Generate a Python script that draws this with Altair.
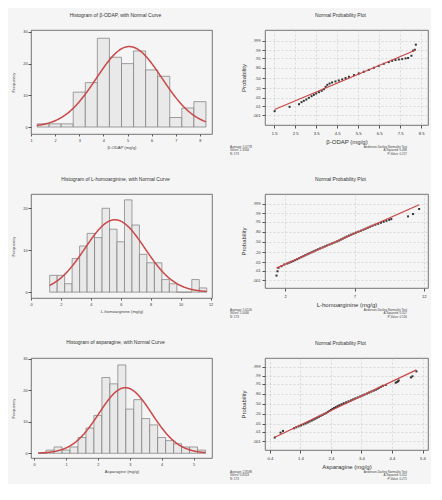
import altair as alt
import pandas as pd
from statistics import NormalDist

FONT = "Liberation Sans"
RED = "#c94848"

# ---------------- histogram data ----------------
odap_bin_start = [1.25, 1.75, 2.25, 2.75, 3.25, 3.75, 4.25, 4.75, 5.25, 5.75, 6.25, 6.75, 7.25, 7.75]
odap_counts = [1, 1, 1, 11, 14, 28, 22, 20, 24, 18, 16, 3, 6, 8]
odap_bin_width = 0.5
odap_mean, odap_sd = 5.07, 1.36

hom_bin_start = [1.25, 1.75, 2.25, 2.75, 3.25, 3.75, 4.25, 4.75, 5.25, 5.75, 6.25, 6.75,
                 7.25, 7.75, 8.25, 8.75, 9.25, 9.75, 10.25, 10.75, 11.25]
hom_counts = [4, 4, 2, 8, 11, 14, 13, 20, 15, 12, 22, 16, 9, 7, 7, 3, 2, 0, 0, 3, 1]
hom_bin_width = 0.5
hom_mean, hom_sd = 5.61, 2.0

asp_bin_start = [0.125, 0.375, 0.625, 0.875, 1.125, 1.375, 1.625, 1.875, 2.125, 2.375, 2.625,
                 2.875, 3.125, 3.375, 3.625, 3.875, 4.125, 4.375, 4.625, 4.875, 5.125]
asp_counts = [0, 1, 2, 1, 2, 5, 8, 12, 24, 22, 28, 14, 17, 11, 9, 5, 4, 3, 2, 2, 1]
asp_bin_width = 0.25
asp_mean, asp_sd = 2.86, 0.83

# ---------------- probability plot data (value, normal score) ----------------
odap_pp_x = [1.52, 2.23, 2.68, 2.80, 2.91, 3.03, 3.15, 3.28, 3.39, 3.50, 3.63, 3.76, 3.87,
             3.95, 4.03, 4.14, 4.26, 4.42, 4.58, 4.74, 4.90, 5.06, 5.30, 5.53, 5.77, 6.01,
             6.25, 6.48, 6.72, 6.96, 7.12, 7.28, 7.44, 7.60, 7.76, 7.88, 8.04, 8.12, 8.20, 8.25]
odap_pp_score = [-2.75, -2.39, -2.17, -2.00, -1.89, -1.78, -1.64, -1.50, -1.39, -1.28, -1.17,
                 -1.06, -0.92, -0.73, -0.56, -0.45, -0.36, -0.28, -0.20, -0.11, 0.00, 0.11,
                 0.25, 0.39, 0.53, 0.69, 0.86, 1.02, 1.19, 1.33, 1.44, 1.50, 1.55, 1.58, 1.64,
                 1.67, 1.86, 2.28, 2.36, 2.78]

hom_pp_x = [1.37, 1.44, 1.51, 1.73, 1.93, 2.15, 2.3, 2.45, 2.58, 2.72, 2.86, 3.0, 3.15, 3.3,
            3.44, 3.6, 3.74, 3.9, 4.05, 4.2, 4.36, 4.52, 4.7, 4.86, 5.02, 5.2, 5.38, 5.55, 5.72,
            5.88, 6.02, 6.16, 6.3, 6.44, 6.6, 6.76, 6.92, 7.1, 7.28, 7.46, 7.64, 7.8, 7.96, 8.12,
            8.3, 8.5, 8.7, 8.9, 9.1, 9.3, 9.5, 9.65, 10.86, 11.22, 11.66]
hom_pp_score = [-2.73, -2.38, -2.10, -1.97, -1.83, -1.75, -1.68, -1.61, -1.54, -1.47, -1.40,
                -1.32, -1.24, -1.16, -1.08, -1.00, -0.92, -0.84, -0.76, -0.68, -0.60, -0.52,
                -0.44, -0.36, -0.28, -0.20, -0.12, -0.04, 0.04, 0.12, 0.20, 0.28, 0.36, 0.44,
                0.52, 0.60, 0.68, 0.76, 0.84, 0.92, 1.00, 1.08, 1.16, 1.24, 1.32, 1.40, 1.48,
                1.56, 1.64, 1.72, 1.80, 1.86, 2.08, 2.27, 2.68]

asp_pp_x = [0.56, 0.75, 0.83, 1.19, 1.26, 1.34, 1.42, 1.5, 1.57, 1.64, 1.7, 1.77, 1.83, 1.89,
            1.95, 2.01, 2.07, 2.13, 2.19, 2.25, 2.3, 2.35, 2.4, 2.45, 2.5, 2.56, 2.62, 2.68,
            2.75, 2.82, 2.9, 2.98, 3.06, 3.13, 3.2, 3.28, 3.36, 3.43, 3.5, 3.58, 3.65, 3.72,
            3.8, 3.87, 3.93, 3.98, 4.04, 4.1, 4.2, 4.52, 4.56, 4.6, 4.62, 5.02, 5.07, 5.2]
asp_pp_score = [-2.80, -2.39, -2.25, -2.03, -1.95, -1.87, -1.79, -1.71, -1.63, -1.55, -1.47,
                -1.39, -1.31, -1.23, -1.15, -1.07, -0.99, -0.91, -0.83, -0.75, -0.67, -0.59,
                -0.51, -0.43, -0.35, -0.27, -0.19, -0.11, -0.03, 0.05, 0.13, 0.21, 0.29, 0.37,
                0.45, 0.53, 0.61, 0.69, 0.77, 0.85, 0.93, 1.01, 1.09, 1.17, 1.25, 1.33, 1.41,
                1.49, 1.57, 1.75, 1.80, 1.86, 1.94, 2.19, 2.28, 2.69]

prob_tick_p = [0.001, 0.01, 0.05, 0.20, 0.50, 0.80, 0.95, 0.99, 0.999]
prob_tick_labels = [".001", ".01", ".05", ".20", ".50", ".80", ".95", ".99", ".999"]

odap_stats_left = ["Average: 5.0778", "StDev: 1.3584", "N: 173"]
odap_stats_right = ["Anderson-Darling Normality Test", "A-Squared: 0.488", "P-Value: 0.217"]
hom_stats_left = ["Average: 5.6105", "StDev: 2.0046", "N: 173"]
hom_stats_right = ["Anderson-Darling Normality Test", "A-Squared: 0.327", "P-Value: 0.516"]
asp_stats_left = ["Average: 2.8598", "StDev: 0.8323", "N: 173"]
asp_stats_right = ["Anderson-Darling Normality Test", "A-Squared: 0.452", "P-Value: 0.271"]


def title(text):
    return alt.TitleParams(text, font=FONT, fontSize=5, fontWeight="normal", color="#333",
                           anchor="middle", offset=12, dx=-6)


def hist_panel(ttl, xtitle, starts, counts, bw, mean, sd, xdom, xticks, ydom, yticks, h):
    n = sum(counts)
    df = pd.DataFrame({"start": starts, "count": counts})
    xs = alt.Scale(domain=xdom, nice=False, zero=False)
    ys = alt.Scale(domain=ydom, nice=False, zero=False)
    xaxis = alt.Axis(values=xticks, format="d", title=xtitle, grid=False, domain=False,
                     tickSize=2, labelFontSize=3.8, titleFontSize=4.2, labelFont=FONT,
                     titleFont=FONT, titleFontWeight="normal", labelPadding=2, titlePadding=4,
                     labelOverlap=False, labelColor="#333", titleColor="#444", tickColor="#555")
    yaxis = alt.Axis(values=yticks, format="d", title="Frequency", grid=False, domain=False,
                     tickSize=3, labelFontSize=3.8, titleFontSize=4.2, labelFont=FONT,
                     titleFont=FONT, titleFontWeight="normal", labelPadding=1, titlePadding=7,
                     labelOverlap=False, labelColor="#333", titleColor="#444", tickColor="#555")
    bars = alt.Chart(df).transform_calculate(end=f"datum.start + {bw}").mark_rect(
        fill="#e9e9e9", stroke="#7a7a7a", strokeWidth=0.7
    ).encode(
        x=alt.X("start:Q", scale=xs, axis=xaxis),
        x2="end:Q",
        y=alt.Y("count:Q", scale=ys, axis=yaxis),
        y2=alt.datum(0),
    )
    lo, hi = starts[0], starts[-1] + bw
    curve = alt.Chart(alt.sequence(lo, hi + bw / 20, bw / 20, as_="v")).transform_calculate(
        dens=f"{n} * {bw} * densityNormal(datum.v, {mean}, {sd})"
    ).mark_line(color=RED, strokeWidth=1.5).encode(
        x=alt.X("v:Q", scale=xs, axis=xaxis),
        y=alt.Y("dens:Q", scale=ys, axis=yaxis),
    )
    return alt.layer(bars, curve).properties(width=181, height=h, title=title(ttl))


def prob_panel(xtitle, xs_vals, zs, mean, sd, xdom, xticks, zdom, h, left_txt, right_txt):
    zticks = [NormalDist().inv_cdf(p) for p in prob_tick_p]
    expr = "''"
    for z, lab in zip(zticks, prob_tick_labels):
        expr = f"abs(datum.value - {z:.5f}) < 0.001 ? '{lab}' : " + expr
    xs = alt.Scale(domain=xdom, nice=False, zero=False)
    ys = alt.Scale(domain=zdom, nice=False, zero=False)
    xaxis = alt.Axis(values=xticks, format=".1~f", title=xtitle, grid=True, gridDash=[2, 2],
                     gridColor="#c8c8c8", gridWidth=0.6, domain=False, tickSize=3,
                     labelFontSize=4.2, titleFontSize=6, labelFont=FONT, titleFont=FONT,
                     titleFontWeight="normal", labelPadding=3, titlePadding=3,
                     labelOverlap=False, labelColor="#333", titleColor="#333", tickColor="#555")
    yaxis = alt.Axis(values=zticks, labelExpr=expr, title="Probability", grid=True,
                     gridDash=[2, 2], gridColor="#c8c8c8", gridWidth=0.6, domain=False,
                     tickSize=3, labelFontSize=3.8, titleFontSize=6, labelFont=FONT,
                     titleFont=FONT, titleFontWeight="normal", labelPadding=2, titlePadding=6,
                     labelOverlap=False, labelColor="#333", titleColor="#333", tickColor="#555")
    pts_df = pd.DataFrame({"x": xs_vals, "z": zs})
    pts = alt.Chart(pts_df).mark_square(size=4, color="#333", opacity=1).encode(
        x=alt.X("x:Q", scale=xs, axis=xaxis),
        y=alt.Y("z:Q", scale=ys, axis=yaxis),
    )
    line_df = pd.DataFrame({"x": [min(xs_vals), max(xs_vals)]})
    line = alt.Chart(line_df).transform_calculate(
        z=f"(datum.x - {mean}) / {sd}"
    ).mark_line(color=RED, strokeWidth=1.3).encode(
        x=alt.X("x:Q", scale=xs, axis=xaxis),
        y=alt.Y("z:Q", scale=ys, axis=yaxis),
    )
    one = pd.DataFrame({"k": [0]})
    txt_left = alt.Chart(one).mark_text(
        align="left", baseline="top", font=FONT, fontSize=3, lineHeight=3.4, color="#444"
    ).encode(x=alt.value(-35), y=alt.value(h + 21), text=alt.value(left_txt))
    txt_right = alt.Chart(one).mark_text(
        align="right", baseline="top", font=FONT, fontSize=3, lineHeight=3.4, color="#444"
    ).encode(x=alt.value(142), y=alt.value(h + 21), text=alt.value(right_txt))
    return alt.layer(pts, line, txt_left, txt_right).properties(
        width=163, height=h, title=title("Normal Probability Plot"))


h1 = hist_panel("Histogram of β-ODAP, with Normal Curve", "β-ODAP (mg/g)",
                odap_bin_start, odap_counts, odap_bin_width, odap_mean, odap_sd,
                [1, 8.5], [1, 2, 3, 4, 5, 6, 7, 8], [-2.2, 30.6], [0, 10, 20, 30], 104)
p1 = prob_panel("β-ODAP (mg/g)", odap_pp_x, odap_pp_score, odap_mean, odap_sd,
                [1.06, 8.83], [1.5, 2.5, 3.5, 4.5, 5.5, 6.5, 7.5, 8.5], [-3.9, 4.0], 95,
                odap_stats_left, odap_stats_right)

h2 = hist_panel("Histogram of L-homoarginine, with Normal Curve", "L-homoarginine (mg/g)",
                hom_bin_start, hom_counts, hom_bin_width, hom_mean, hom_sd,
                [0, 12.1], [0, 2, 4, 6, 8, 10, 12], [-1.4, 23.4], [0, 10, 20], 104)
p2 = prob_panel("L-homoarginine (mg/g)", hom_pp_x, hom_pp_score, hom_mean, hom_sd,
                [0.54, 12.3], [2, 7, 12], [-3.74, 3.9], 94, hom_stats_left, hom_stats_right)

h3 = hist_panel("Histogram of asparagine, with Normal Curve", "Asparagine (mg/g)",
                asp_bin_start, asp_counts, asp_bin_width, asp_mean, asp_sd,
                [-0.1, 5.58], [0, 1, 2, 3, 4, 5], [-1.5, 30.2], [0, 10, 20, 30], 100)
p3 = prob_panel("Asparagine (mg/g)", asp_pp_x, asp_pp_score, asp_mean, asp_sd,
                [0.24, 5.58], [0.4, 1.4, 2.4, 3.4, 4.4, 5.4], [-3.83, 3.8], 92,
                asp_stats_left, asp_stats_right)

chart = alt.concat(
    h1, p1, h2, p2, h3, p3, columns=2, spacing=alt.RowColnumber(row=60, column=53),
    bounds="flush", align="none",
).properties(
    padding={"left": 3, "top": 4, "right": 2, "bottom": 2},
    background="#f5f5f5",
).configure_view(
    stroke="#555", strokeWidth=0.8
).configure_axis(labelFlush=False, labelOverlap=False)

chart.save("out.html", embed_options={"renderer": "svg", "actions": False})
